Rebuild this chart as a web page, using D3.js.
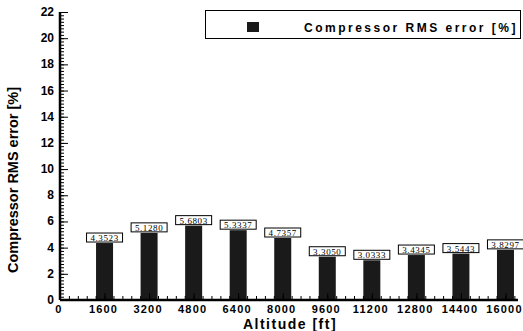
<!DOCTYPE html>
<html>
<head>
<meta charset="utf-8">
<script src="https://cdn.jsdelivr.net/npm/d3@7"></script>
<style>
  body { margin: 0; background: #fff; }
  svg { display: block; }
</style>
</head>
<body>
<div id="chart"></div>
<script>
// Data
const altitudes = [1600, 3200, 4800, 6400, 8000, 9600, 11200, 12800, 14400, 16000];
const rmsError = [4.3523, 5.1280, 5.6803, 5.3337, 4.7357, 3.3050, 3.0333, 3.4345, 3.5443, 3.8297];
const xTickValues = [0, 1600, 3200, 4800, 6400, 8000, 9600, 11200, 12800, 14400, 16000];
const yTickValues = [0, 2, 4, 6, 8, 10, 12, 14, 16, 18, 20, 22];
const seriesName = 'Compressor RMS error [%]';

const width = 523, height = 331;
const margin = { top: 12, right: 5, bottom: 31, left: 60 };

const svg = d3.select('#chart')
    .append('svg')
    .attr('width', width)
    .attr('height', height);

// Scales
const x = d3.scaleLinear().domain([0, 16450]).range([margin.left, width - margin.right]);
const y = d3.scaleLinear().domain([0, 22]).range([height - margin.bottom, margin.top]);

const barWidth = 17;

// Bars
svg.append('g')
    .selectAll('rect')
    .data(altitudes)
    .join('rect')
    .attr('x', (d) => x(d) - barWidth / 2)
    .attr('y', (d, i) => y(rmsError[i]))
    .attr('width', barWidth)
    .attr('height', (d, i) => y(0) - y(rmsError[i]))
    .attr('fill', '#1a1a1a');

// Value labels in boxes
const labels = svg.append('g')
    .selectAll('g')
    .data(altitudes)
    .join('g')
    .attr('transform', (d, i) => `translate(${x(d)},${y(rmsError[i]) - 5})`);

labels.append('rect')
    .attr('x', -18)
    .attr('y', -5)
    .attr('width', 36)
    .attr('height', 9)
    .attr('fill', '#fff')
    .attr('stroke', '#000')
    .attr('stroke-width', 1);

labels.append('text')
    .attr('text-anchor', 'middle')
    .attr('y', 3)
    .attr('font-family', 'Liberation Serif, serif')
    .attr('font-size', 9)
    .attr('letter-spacing', 0.6)
    .text((d, i) => rmsError[i].toFixed(4));

// Y axis with minor ticks (pointing inward)
const yAxis = svg.append('g').attr('transform', `translate(${margin.left},0)`);
yAxis.call(d3.axisRight(y).tickValues(d3.range(0, 22.01, 0.25)).tickSize(4).tickFormat(''));
yAxis.append('g').call(d3.axisRight(y).tickValues(yTickValues).tickSize(8).tickFormat(''));
yAxis.selectAll('.domain').remove();
yAxis.selectAll('line').attr('stroke', '#000').attr('stroke-width', 1);
yAxis.append('line')
    .attr('x1', 0).attr('x2', 0)
    .attr('y1', y(22)).attr('y2', y(0))
    .attr('stroke', '#000').attr('stroke-width', 2.5);

svg.append('g')
    .selectAll('text')
    .data(yTickValues)
    .join('text')
    .attr('x', margin.left - 6)
    .attr('y', (d) => y(d) + 4)
    .attr('text-anchor', 'end')
    .attr('font-family', 'Liberation Sans, Arial, sans-serif')
    .attr('font-size', 12)
    .attr('font-weight', 'bold')
    .text((d) => d);

// X axis with minor ticks (pointing inward)
const xAxis = svg.append('g').attr('transform', `translate(0,${y(0)})`);
xAxis.call(d3.axisTop(x).tickValues(d3.range(0, 16450, 320)).tickSize(4).tickFormat(''));
xAxis.append('g').call(d3.axisTop(x).tickValues(xTickValues).tickSize(7).tickFormat(''));
xAxis.selectAll('.domain').remove();
xAxis.selectAll('line').attr('stroke', '#000');
xAxis.append('line')
    .attr('x1', x(0)).attr('x2', x.range()[1])
    .attr('y1', 0).attr('y2', 0)
    .attr('stroke', '#000').attr('stroke-width', 2.5);

svg.append('g')
    .selectAll('text')
    .data(xTickValues)
    .join('text')
    .attr('x', (d) => x(d) - 1)
    .attr('y', y(0) + 13)
    .attr('text-anchor', 'middle')
    .attr('font-family', 'Liberation Sans, Arial, sans-serif')
    .attr('font-size', 11)
    .attr('font-weight', 'bold')
    .attr('letter-spacing', 1.2)
    .text((d) => d);

// Axis titles
svg.append('text')
    .attr('x', 290)
    .attr('y', 329)
    .attr('text-anchor', 'middle')
    .attr('font-family', 'Liberation Sans, Arial, sans-serif')
    .attr('font-size', 14)
    .attr('font-weight', 'bold')
    .attr('letter-spacing', 1.5)
    .text('Altitude [ft]');

svg.append('text')
    .attr('transform', 'translate(18,180) rotate(-90)')
    .attr('text-anchor', 'middle')
    .attr('font-family', 'Liberation Sans, Arial, sans-serif')
    .attr('font-size', 15)
    .attr('font-weight', 'bold')
    .attr('textLength', 186)
    .attr('lengthAdjust', 'spacingAndGlyphs')
    .text(seriesName);

// Legend
const legend = svg.append('g');
legend.append('rect')
    .attr('x', 205.5).attr('y', 10.5)
    .attr('width', 315).attr('height', 28)
    .attr('fill', '#fff')
    .attr('stroke', '#000')
    .attr('stroke-width', 1);
legend.append('rect')
    .attr('x', 247).attr('y', 22)
    .attr('width', 12).attr('height', 10)
    .attr('fill', '#1a1a1a');
legend.append('text')
    .attr('x', 304)
    .attr('y', 32)
    .attr('font-family', 'Liberation Sans, Arial, sans-serif')
    .attr('font-size', 12)
    .attr('font-weight', 'bold')
    .attr('letter-spacing', 2.5)
    .text(seriesName);
</script>
</body>
</html>
